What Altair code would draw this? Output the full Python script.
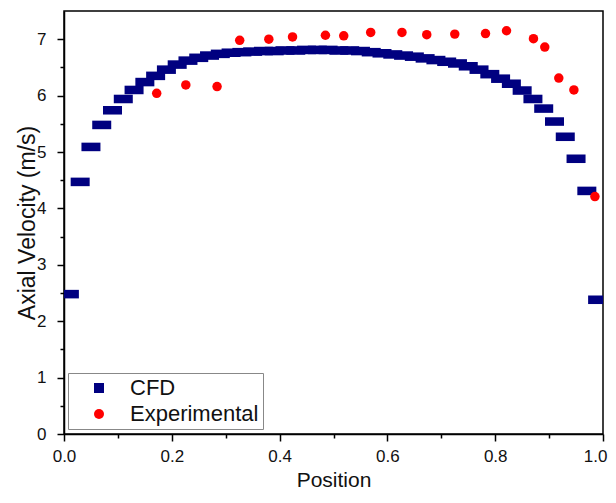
import altair as alt
import pandas as pd

# CFD profile (position, axial velocity)
cfd_position = [0.01, 0.03, 0.05, 0.07, 0.09, 0.11, 0.13, 0.15, 0.17, 0.19,
                0.21, 0.23, 0.25, 0.27, 0.29, 0.31, 0.33, 0.35, 0.37, 0.39,
                0.41, 0.43, 0.45, 0.47, 0.49, 0.51, 0.53, 0.55, 0.57, 0.59,
                0.61, 0.63, 0.65, 0.67, 0.69, 0.71, 0.73, 0.75, 0.77, 0.79,
                0.81, 0.83, 0.85, 0.87, 0.89, 0.91, 0.93, 0.95, 0.97, 0.99]
cfd_velocity = [2.48, 4.47, 5.09, 5.48, 5.74, 5.94, 6.10, 6.24, 6.35, 6.46,
                6.55, 6.62, 6.67, 6.71, 6.74, 6.76, 6.77, 6.78, 6.79, 6.79,
                6.80, 6.80, 6.81, 6.81, 6.81, 6.80, 6.80, 6.79, 6.77, 6.75,
                6.73, 6.71, 6.69, 6.66, 6.63, 6.60, 6.57, 6.52, 6.46, 6.38,
                6.30, 6.21, 6.09, 5.94, 5.77, 5.54, 5.27, 4.88, 4.31, 2.38]

# Experimental measurements
exp_position = [0.172, 0.226, 0.284, 0.326, 0.380, 0.424, 0.485, 0.519, 0.569,
                0.627, 0.673, 0.725, 0.782, 0.821, 0.871, 0.892, 0.918, 0.946, 0.985]
exp_velocity = [6.04, 6.19, 6.16, 6.98, 7.00, 7.04, 7.07, 7.06, 7.12,
                7.12, 7.08, 7.09, 7.10, 7.15, 7.01, 6.86, 6.31, 6.10, 4.21]

series_names = ["CFD", "Experimental"]
series_colors = ["#000080", "#ff0000"]

x_ticks = [0.0, 0.1, 0.2, 0.3, 0.4, 0.5, 0.6, 0.7, 0.8, 0.9, 1.0]
y_ticks = [0.0, 0.5, 1.0, 1.5, 2.0, 2.5, 3.0, 3.5, 4.0, 4.5, 5.0, 5.5, 6.0, 6.5, 7.0]

df = pd.concat([
    pd.DataFrame({"Position": cfd_position, "Velocity": cfd_velocity, "Series": "CFD"}),
    pd.DataFrame({"Position": exp_position, "Velocity": exp_velocity, "Series": "Experimental"}),
], ignore_index=True)

x_enc = alt.X(
    "Position:Q",
    scale=alt.Scale(domain=[0, 1], nice=False, zero=False),
    axis=alt.Axis(
        title="Position",
        values=x_ticks,
        labelExpr="round(datum.value*10) % 2 === 0 ? format(datum.value, '.1f') : ''",
        tickSize={"condition": {"test": "round(datum.value*10) % 2 === 0", "value": 7}, "value": 4},
        labelAlign={"condition": {"test": "datum.value >= 1", "value": "right"}, "value": "center"},
        labelOffset={"condition": {"test": "datum.value >= 1", "value": 4}, "value": 0},
        labelPadding=7,
        labelFontSize=17,
        labelFlush=False,
        labelOverlap=False,
        titleFontSize=21,
        titleY=52,
        titleBaseline="alphabetic",
    ),
)
y_enc = alt.Y(
    "Velocity:Q",
    scale=alt.Scale(domain=[0, 7.5], nice=False, zero=False),
    axis=alt.Axis(
        title="Axial Velocity (m/s)",
        values=y_ticks,
        labelExpr="datum.value % 1 === 0 ? format(datum.value, 'd') : ''",
        tickSize={"condition": {"test": "datum.value % 1 === 0", "value": 7}, "value": 4},
        labelPadding=11,
        labelFontSize=17,
        labelFlush=False,
        labelOverlap=False,
        titleFontSize=23,
        titleX=-30,
        titleBaseline="alphabetic",
    ),
)
color_enc = alt.Color(
    "Series:N",
    scale=alt.Scale(domain=series_names, range=series_colors),
    legend=alt.Legend(
        title=None,
        orient="none",
        legendX=4,
        legendY=362,
        padding=4,
        symbolOffset=16,
        labelOffset=20,
        rowPadding=4,
        labelFontSize=22,
        symbolSize=100,
        strokeColor="#888888",
        symbolStrokeWidth=0,
    ),
)

cfd = alt.Chart(df).transform_filter(alt.datum.Series == "CFD").mark_point(
    filled=True, opacity=1, size=361, clip=True,
    shape="M-1,-0.45L1,-0.45L1,0.45L-1,0.45Z",
).encode(x=x_enc, y=y_enc, color=color_enc)

exp = alt.Chart(df).transform_filter(alt.datum.Series == "Experimental").mark_point(
    filled=True, opacity=1, size=90,
).encode(
    x=x_enc, y=y_enc, color=color_enc,
    shape=alt.Shape("Series:N", scale=alt.Scale(domain=series_names, range=["square", "circle"])),
)

chart = alt.layer(cfd, exp).properties(
    width=539, height=423,
    padding={"left": 56, "top": 3, "right": 5, "bottom": 57},
    autosize="none",
).configure_view(
    stroke="#000000", strokeWidth=1.5,
).configure_axis(
    grid=False,
    domainColor="#000000", domainWidth=1.5,
    tickColor="#000000", tickWidth=1.5,
    labelColor="#111111", titleColor="#111111",
    labelFont="Liberation Sans", titleFont="Liberation Sans",
    titleFontWeight="normal",
).configure_legend(
    labelFont="Liberation Sans", labelColor="#111111",
)

chart.save("out.html", embed_options={"renderer": "svg", "actions": False})
